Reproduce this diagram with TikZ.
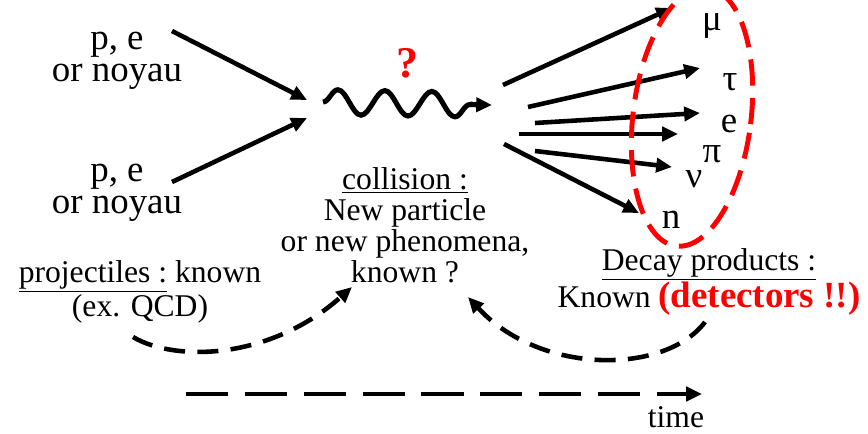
\documentclass[tikz,border=0pt]{standalone}
\usepackage{fontspec}
\setmainfont{Liberation Serif}
\usetikzlibrary{arrows.meta,decorations.pathmorphing}
\definecolor{alertred}{HTML}{FF0000}
\newcommand\bigsize{\fontsize{21}{18}\selectfont}
\newcommand\midsize{\fontsize{18}{17.6}\selectfont}

\begin{document}
\begin{tikzpicture}[x=0.02cm,y=-0.02cm,
    thickline/.style={line width=2.6pt},
    arrowed/.style={thickline,-{Triangle[length=9pt,width=8pt]}},
    dashcurve/.style={arrowed,dash pattern=on 12pt off 7pt},
    lbl/.style={inner sep=0pt,align=center}]
  \useasboundingbox (0,0) rectangle (868,433);

  % incoming beams
  \node[lbl,font=\bigsize] (projA) at (117,61) {p, e\\or noyau};
  \node[lbl,font=\bigsize] (projB) at (117,193) {p, e\\or noyau};
  \coordinate (beamA) at (172,31);
  \coordinate (beamB) at (172,182);
  \coordinate (vtxA) at (307,100);
  \coordinate (vtxB) at (307,118);
  \draw[arrowed] (beamA) -- (vtxA);
  \draw[arrowed] (beamB) -- (vtxB);

  % unknown exchange
  \coordinate (wavein) at (323,102);
  \coordinate (waveout) at (492,105);
  \draw[arrowed,line width=2.9pt,decorate,decoration={snake,amplitude=0.25cm,segment length=0.94cm,post length=0.26cm}] (wavein) -- (waveout);
  \node[inner sep=0pt,text=alertred,font=\bfseries\fontsize{25}{25}\selectfont] (query) at (407,63) {?};

  % decay products
  \coordinate (dkA) at (503,85);   \coordinate (muend) at (672,8);
  \coordinate (dkB) at (528,107);  \coordinate (tauend) at (700,68);
  \coordinate (dkC) at (535,123);  \coordinate (eend) at (700,113);
  \coordinate (dkD) at (519,134);  \coordinate (piend) at (678,134);
  \coordinate (dkE) at (535,151);  \coordinate (nuend) at (672,167);
  \coordinate (dkF) at (504,144);  \coordinate (nend) at (639,213);
  \draw[arrowed] (dkA) -- (muend);
  \draw[arrowed] (dkB) -- (tauend);
  \draw[arrowed] (dkC) -- (eend);
  \draw[arrowed] (dkD) -- (piend);
  \draw[arrowed] (dkE) -- (nuend);
  \draw[arrowed] (dkF) -- (nend);
  \node[anchor=base,inner sep=0pt,font=\bigsize] (mu) at (712,30) {μ};
  \node[anchor=base,inner sep=0pt,font=\bigsize] (tau) at (730,90) {τ};
  \node[anchor=base,inner sep=0pt,font=\bigsize] (elec) at (729,132) {e};
  \node[anchor=base,inner sep=0pt,font=\bigsize] (pion) at (712,162) {π};
  \node[anchor=base,inner sep=0pt,font=\bigsize] (nu) at (694,187) {ν};
  \node[anchor=base,inner sep=0pt,font=\bigsize] (neut) at (671,228) {n};

  % detector
  \coordinate (detc) at (692,117);
  \draw[alertred,line width=2.8pt,dash pattern=on 15pt off 7pt,rotate around={-7:(detc)}]
    (detc) ellipse [x radius=1.18cm,y radius=2.6cm];

  % captions
  \node[lbl,font=\midsize] (collision) at (405,225) {\underline{collision :}\\New particle\\or new phenomena,\\known ?};
  \node[lbl,font=\midsize] (projtxt) at (140,292) {\underline{projectiles :} known\\(ex. QCD)};
  \node[lbl,font=\midsize] (decaytxt) at (709,282) {\underline{Decay products :}\\Known {\color{alertred}\bfseries\bigsize(detectors !!)}};

  % links in time
  \coordinate (knownA) at (133,337);
  \coordinate (knownAtip) at (352,287);
  \coordinate (knownB) at (705,322);
  \coordinate (knownBtip) at (468,297);
  \draw[dashcurve] (knownA) .. controls (175,362) and (270,360) .. (knownAtip);
  \draw[dashcurve] (knownB) .. controls (665,375) and (540,375) .. (knownBtip);

  \coordinate (tstart) at (186,394);
  \coordinate (tend) at (702,394);
  \draw[arrowed,dash pattern=on 24pt off 9.5pt] (tstart) -- (tend);
  \node[inner sep=0pt,font=\midsize] (timetxt) at (676,417) {time};
\end{tikzpicture}
\end{document}
